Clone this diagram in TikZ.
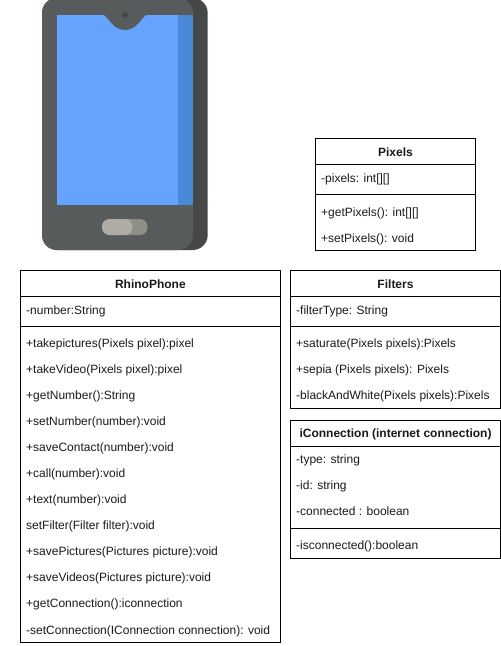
\documentclass[tikz,border=0pt]{standalone}
\usepackage{fontspec}
\setmainfont{Liberation Sans}
\definecolor{bodyc}{HTML}{585B5C}
\definecolor{bodyd}{HTML}{464847}
\definecolor{scr}{HTML}{66A3FF}
\definecolor{scrd}{HTML}{4A88D8}
\definecolor{btnl}{HTML}{AEACA5}
\definecolor{btnd}{HTML}{8F8F88}
\definecolor{txt}{HTML}{1A1A1A}
\tikzset{
  x=1pt,y=-1pt,
  part/.style={draw=black,line width=0.9pt,fill=white,inner sep=0pt,outer sep=0pt,anchor=north west},
  titlet/.style={font=\fontsize{12}{14}\selectfont\bfseries,text=txt,inner sep=0pt,anchor=center},
  rowt/.style={font=\fontsize{12}{14}\selectfont,text=txt,inner sep=0pt,anchor=base west,yshift=-0.7pt},
}
\newcommand{\comp}[5]{\node[part,minimum width=#3pt,minimum height=#4pt] (#5) at (#1,#2) {};}
\begin{document}
\begin{tikzpicture}
\useasboundingbox (0,0) rectangle (501,646);
\fill[white] (0,0) rectangle (501,646);
% phone
\fill[bodyd,rounded corners=15pt] (42,-2) rectangle (207.7,250);
\begin{scope}
\clip[rounded corners=15pt] (42,-2) rectangle (207.7,250);
\fill[bodyc,rounded corners=15pt] (30,-2) rectangle (193,250);
\end{scope}
\fill[scr] (56.7,15) rectangle (178,204.5);
\fill[scrd] (178,15) rectangle (193,204.5);
\fill[bodyc] (103,14.5) -- (104,15) .. controls (110,20) and (114,30) .. (125,30) .. controls (136,30) and (140,20) .. (146,15) -- (147,14.5) -- cycle;
\fill[bodyd] (125,15) circle (3);
\fill[btnd,rounded corners=7.5pt] (102,219) rectangle (147.5,235);
\fill[btnl,rounded corners=7.5pt] (102,219) rectangle (132.5,235);
% Pixels
\comp{315.5}{138.5}{160}{26}{pxh}
\comp{315.5}{164.5}{160}{29.8}{pxa}
\comp{315.5}{194.3}{160}{56}{pxm}
\node[titlet] (pxt) at (395.5,152) {Pixels};
\node[rowt] (px1) at (321,182) {-pixels: int[][]};
\node[rowt] (px2) at (321,216) {+getPixels(): int[][]};
\node[rowt] (px3) at (321,242) {+setPixels(): void};
% RhinoPhone
\comp{20.3}{270.5}{260.2}{26.2}{rph}
\comp{20.3}{296.7}{260.2}{29.6}{rpa}
\comp{20.3}{326.3}{260.2}{315.7}{rpm}
\node[titlet] (rpt) at (150.4,284) {RhinoPhone};
\node[rowt] (rp0) at (26,314) {-number:String};
\node[rowt] (rp1) at (26,347) {+takepictures(Pixels pixel):pixel};
\node[rowt] (rp2) at (26,373) {+takeVideo(Pixels pixel):pixel};
\node[rowt] (rp3) at (26,399) {+getNumber():String};
\node[rowt] (rp4) at (26,425) {+setNumber(number):void};
\node[rowt] (rp5) at (26,451) {+saveContact(number):void};
\node[rowt] (rp6) at (26,477) {+call(number):void};
\node[rowt] (rp7) at (26,503) {+text(number):void};
\node[rowt] (rp8) at (26,529) {setFilter(Filter filter):void};
\node[rowt] (rp9) at (26,555) {+savePictures(Pictures picture):void};
\node[rowt] (rp10) at (26,581) {+saveVideos(Pictures picture):void};
\node[rowt] (rp11) at (26,607) {+getConnection():iconnection};
\node[rowt] (rp12) at (26,634) {-setConnection(IConnection connection): void};
% Filters
\comp{290.5}{270.5}{210}{26.2}{fih}
\comp{290.5}{296.7}{210}{29.6}{fia}
\comp{290.5}{326.3}{210}{82}{fim}
\node[titlet] (fit) at (395.5,284) {Filters};
\node[rowt] (fi0) at (296,314) {-filterType: String};
\node[rowt] (fi1) at (296,347) {+saturate(Pixels pixels):Pixels};
\node[rowt] (fi2) at (296,373) {+sepia (Pixels pixels): Pixels};
\node[rowt] (fi3) at (296,399) {-blackAndWhite(Pixels pixels):Pixels};
% iConnection
\comp{290.5}{420.5}{210}{26}{ich}
\comp{290.5}{446.5}{210}{81.5}{ica}
\comp{290.5}{528}{210}{30.3}{icm}
\node[titlet] (ict) at (395.5,434) {iConnection (internet connection)};
\node[rowt] (ic1) at (296,463) {-type: string};
\node[rowt] (ic2) at (296,489) {-id: string};
\node[rowt] (ic3) at (296,515) {-connected : boolean};
\node[rowt] (ic4) at (296,549) {-isconnected():boolean};
\end{tikzpicture}
\end{document}
